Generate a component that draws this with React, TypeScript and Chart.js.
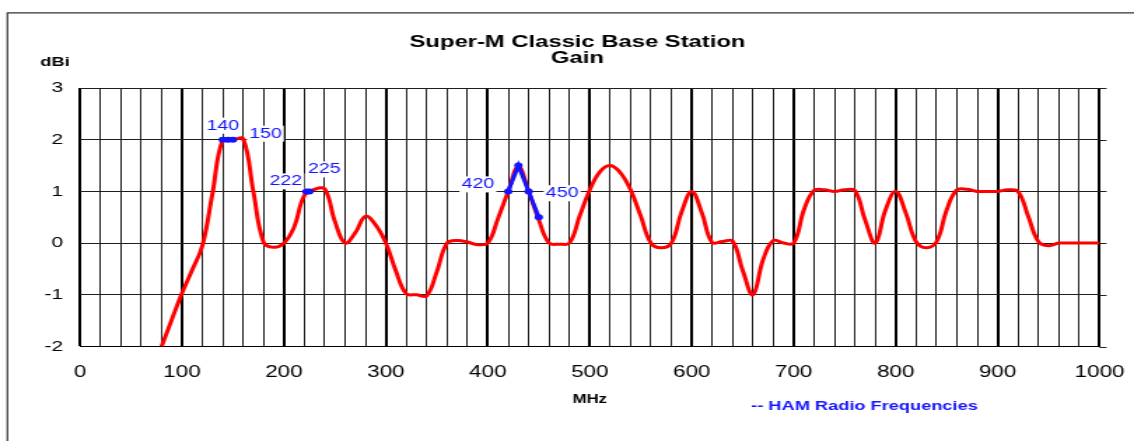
import React, { useEffect, useRef } from 'react';
import { Chart, registerables } from 'chart.js';

Chart.register(...registerables);

// ---- data ----
const freqs = [
  80, 90, 100, 110, 120, 130, 140, 150, 160, 170, 180, 190, 200, 210, 220, 230, 240, 250, 260, 270,
  280, 290, 300, 310, 320, 330, 340, 350, 360, 370, 380, 390, 400, 410, 420, 430, 440, 450, 460, 470,
  480, 490, 500, 510, 520, 530, 540, 550, 560, 570, 580, 590, 600, 610, 620, 630, 640, 650, 660, 670,
  680, 690, 700, 710, 720, 730, 740, 750, 760, 770, 780, 790, 800, 810, 820, 830, 840, 850, 860, 870,
  880, 890, 900, 910, 920, 930, 940, 950, 960, 970, 980, 990, 1000,
];
const gain = [
  -2.0, -1.48, -0.97, -0.52, -0.05, 0.97, 2.0, 2.0, 2.02, 1.0, 0.02, -0.08, 0.0, 0.31, 0.92, 1.04, 1.05, 0.42, 0.0, 0.2,
  0.52, 0.35, 0.0, -0.55, -0.98, -1.0, -1.02, -0.55, 0.0, 0.05, 0.02, -0.03, 0.0, 0.48, 1.0, 1.48, 1.0, 0.45, 0.0, -0.02,
  0.0, 0.52, 1.03, 1.38, 1.5, 1.36, 1.03, 0.52, 0.0, -0.09, 0.0, 0.6, 1.0, 0.58, 0.01, 0.03, 0.04, -0.53, -1.0, -0.32,
  0.05, 0.0, 0.0, 0.64, 1.02, 1.03, 1.0, 1.03, 1.02, 0.45, 0.0, 0.64, 1.0, 0.58, 0.03, -0.09, 0.02, 0.64, 1.03, 1.04,
  1.0, 1.0, 1.0, 1.03, 1.0, 0.52, 0.03, -0.05, 0.0, 0.0, 0.0, 0.0, 0.0,
];

const ham2mFreqs = [140, 145, 150];
const ham2mGain = [2.0, 2.0, 2.0];
const ham125Freqs = [222, 225];
const ham125Gain = [1.0, 1.0];
const ham70Freqs = [420, 430, 440, 450];
const ham70Gain = [1.0, 1.5, 1.0, 0.5];

const pointLabels = [140, 150, 222, 225, 420, 450];

const titleLines = ['Super-M Classic Base Station', 'Gain'];
const yAxisTitle = 'dBi';
const xAxisTitle = 'MHz';
const legendText = '-- HAM Radio Frequencies';

// ---- style ----
const FONT = '"Liberation Sans", Arial, Helvetica, sans-serif';
const STRETCH = 1.4;
const W = 810;
const H = 441;
const RED = '#ff0000';
const BLUE = 'rgb(20,20,255)';

const labelStyle: Record<number, { align: CanvasTextAlign; dx: number; dy: number }> = {
  140: { align: 'center', dx: 0, dy: -14 },
  150: { align: 'left', dx: 11.5, dy: -6 },
  222: { align: 'right', dx: -3, dy: -10 },
  225: { align: 'left', dx: -1, dy: -22 },
  420: { align: 'right', dx: -10, dy: -7 },
  450: { align: 'left', dx: 5, dy: -24 },
};

function hamValue(f: number): number {
  const all = [
    [ham2mFreqs, ham2mGain],
    [ham125Freqs, ham125Gain],
    [ham70Freqs, ham70Gain],
  ];
  for (const [fs, gs] of all) {
    const i = fs.indexOf(f);
    if (i >= 0) return gs[i];
  }
  return 0;
}

const decorPlugin = {
  id: 'decor',
  beforeDraw(chart: any) {
    const ctx = chart.ctx;
    ctx.save();
    ctx.fillStyle = '#fff';
    ctx.fillRect(0, 0, chart.width, chart.height);
    ctx.strokeStyle = '#333';
    ctx.lineWidth = 1.2;
    ctx.beginPath();
    ctx.moveTo(5.3, H + 5);
    ctx.lineTo(5.3, 12.8);
    ctx.lineTo(W + 5, 12.8);
    ctx.stroke();
    ctx.restore();
  },
  beforeDatasetsDraw(chart: any) {
    // short extensions of the horizontal grid lines past the right edge
    const ctx = chart.ctx;
    const ys = chart.scales.y;
    const right = chart.chartArea.right;
    ctx.save();
    ctx.strokeStyle = '#1e1e1e';
    ctx.lineWidth = 1;
    for (const t of ys.ticks) {
      const y = Math.round(ys.getPixelForValue(t.value)) + 0.5;
      ctx.beginPath();
      ctx.moveTo(right, y);
      ctx.lineTo(right + 5, y);
      ctx.stroke();
    }
    ctx.restore();
  },
  afterDraw(chart: any) {
    const ctx = chart.ctx;
    const xs = chart.scales.x;
    const ys = chart.scales.y;
    ctx.save();
    ctx.fillStyle = '#000';
    ctx.textBaseline = 'alphabetic';
    ctx.textAlign = 'center';
    ctx.font = `bold 17px ${FONT}`;
    ctx.fillText(titleLines[0], 412.5, 46.5);
    ctx.fillText(titleLines[1], 412.5, 63.3);
    ctx.font = `bold 13px ${FONT}`;
    ctx.fillText(yAxisTitle, 39.3, 65.7);
    ctx.font = `bold 12px ${FONT}`;
    ctx.fillText(xAxisTitle, (xs.left + xs.right) / 2, 403.3);
    ctx.font = `bold 13px ${FONT}`;
    ctx.fillStyle = BLUE;
    ctx.fillText(legendText, 617.5, 410);

    ctx.font = `14px ${FONT}`;
    ctx.textBaseline = 'middle';
    for (const f of pointLabels) {
      const st = labelStyle[f];
      const px = xs.getPixelForValue(f) + st.dx;
      const py = ys.getPixelForValue(hamValue(f)) + st.dy;
      const txt = String(f);
      const w = ctx.measureText(txt).width;
      let left = px;
      if (st.align === 'center') left = px - w / 2;
      if (st.align === 'right') left = px - w;
      ctx.fillStyle = '#fff';
      ctx.fillRect(left - 1.5, py - 8, w + 3, 16);
      ctx.fillStyle = BLUE;
      ctx.textAlign = st.align;
      ctx.fillText(txt, px, py);
    }
    ctx.restore();
  },
};

export default function App() {
  const ref = useRef<HTMLCanvasElement | null>(null);

  useEffect(() => {
    if (!ref.current) return;
    const hamDs = (fs: number[], gs: number[]) => ({
      data: fs.map((f, i) => ({ x: f, y: gs[i] })),
      borderColor: BLUE,
      backgroundColor: BLUE,
      borderWidth: 3,
      pointRadius: 3,
      pointBorderWidth: 0,
      pointBackgroundColor: BLUE,
      tension: 0,
      fill: false,
    });
    const chart = new Chart(ref.current, {
      type: 'line',
      data: {
        datasets: [
          hamDs(ham2mFreqs, ham2mGain),
          hamDs(ham125Freqs, ham125Gain),
          hamDs(ham70Freqs, ham70Gain),
          {
            data: freqs.map((f, i) => ({ x: f, y: gain[i] })),
            borderColor: RED,
            backgroundColor: RED,
            borderWidth: 3,
            pointRadius: 0,
            tension: 0.4,
            fill: false,
          },
        ],
      },
      options: {
        responsive: false,
        animation: false,
        devicePixelRatio: 1,
        layout: { padding: { left: 0, right: W - 785.4, top: 88, bottom: 0 } },
        plugins: {
          legend: { display: false },
          title: { display: false },
          tooltip: { enabled: false },
        },
        scales: {
          x: {
            type: 'linear',
            min: 0,
            max: 1000,
            afterFit: (s: any) => {
              s.height = H - 346.5;
              s.paddingLeft = 0;
              s.paddingRight = 0;
            },
            ticks: {
              stepSize: 20,
              autoSkip: false,
              maxRotation: 0,
              minRotation: 0,
              padding: 16,
              color: '#000',
              font: { family: FONT, size: 16 },
              callback: (v: any) => (Number(v) % 100 === 0 ? String(v) : ''),
            },
            grid: {
              drawTicks: false,
              color: (c: any) => (c.tick && c.tick.value % 100 === 0 ? '#000' : '#1e1e1e'),
              lineWidth: (c: any) => (c.tick && c.tick.value % 100 === 0 ? 2 : 1),
            },
            border: { display: true, color: '#000', width: 1 },
          },
          y: {
            type: 'linear',
            min: -2,
            max: 3,
            afterFit: (s: any) => {
              s.width = 57.14;
              s.paddingTop = 0;
              s.paddingBottom = 0;
            },
            ticks: {
              stepSize: 1,
              padding: 12,
              color: '#000',
              font: { family: FONT, size: 15 },
            },
            grid: { drawTicks: false, color: '#1e1e1e', lineWidth: 1 },
            border: { display: false },
          },
        },
      },
      plugins: [decorPlugin],
    } as any);
    return () => chart.destroy();
  }, []);

  return (
    <div
      style={{
        position: 'absolute',
        left: 0,
        top: 0,
        width: 1134,
        height: 441,
        overflow: 'hidden',
        background: '#fff',
      }}
    >
      <canvas
        ref={ref}
        width={W}
        height={H}
        style={{ width: `${W * STRETCH}px`, height: `${H}px`, display: 'block' }}
      />
    </div>
  );
}
